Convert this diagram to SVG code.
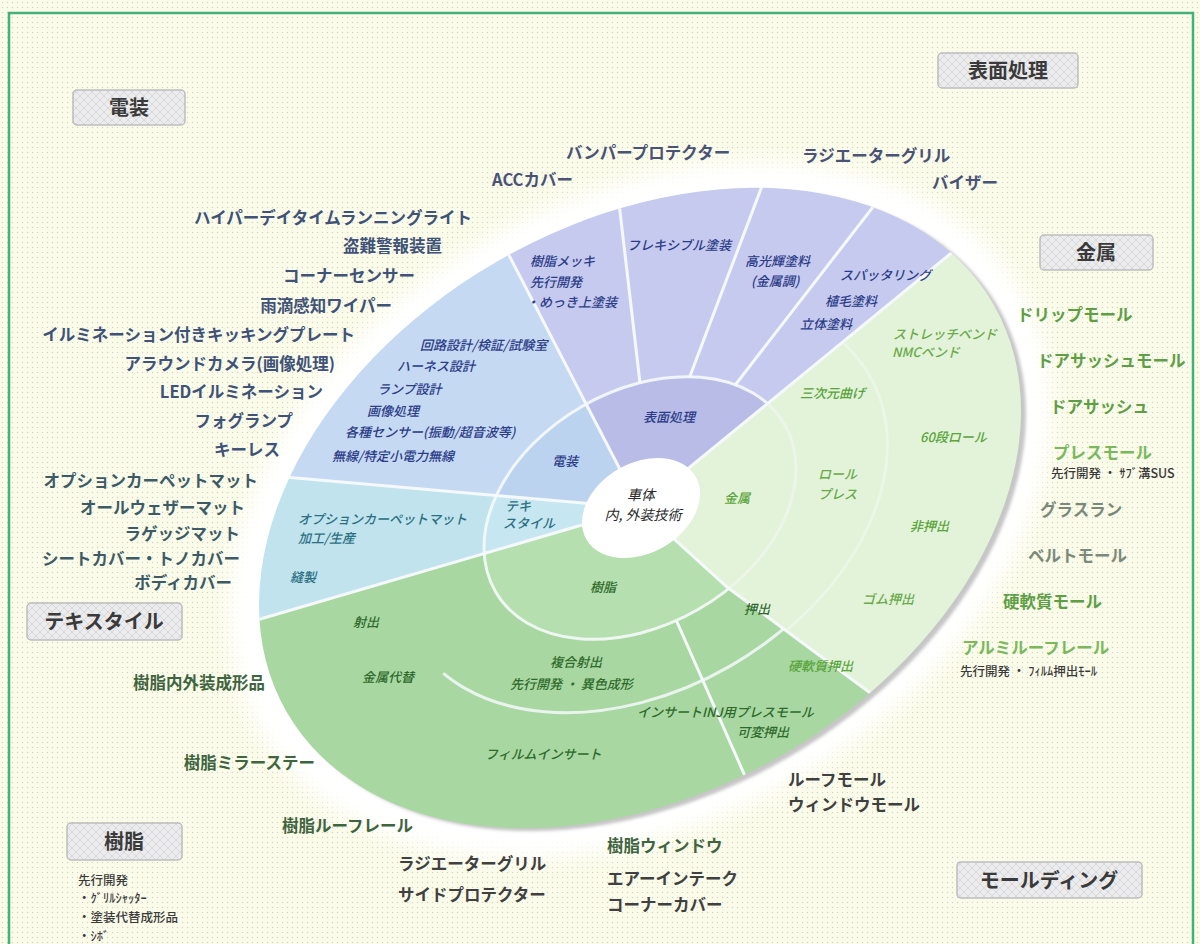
<svg xmlns="http://www.w3.org/2000/svg" width="1200" height="944" viewBox="0 0 1200 944">
<style>
.t{font-family:"Noto Sans CJK JP","Noto Sans",sans-serif}
.lab{font-size:16.5px;font-weight:700}
.tag{font-size:20px;font-weight:700;fill:#3a3a3a;text-anchor:middle}
.in{font-size:13px;font-style:italic;font-weight:500}
.note{font-size:12.5px;fill:#3a3a3a;font-weight:500}
.e{text-anchor:end}
.m{text-anchor:middle}
.cd{fill:#3f5277}.ct{fill:#3d5b66}.cs{fill:#4a5275}.cg{fill:#5e9f45}.cgl{fill:#79b95c}.cgg{fill:#7b8a78}.cr{fill:#3f6440}.ck{fill:#404040}
.ib{fill:#2c3c88}.it{fill:#2b6f80}.ir{fill:#2f6a2c}.im{fill:#5aa43c}.imd{fill:#6aaa4a}
.div{stroke:#f6f9fb;stroke-width:3;fill:none;stroke-linecap:round}
.box{fill:url(#hatch);stroke:#bdbdbd;stroke-width:1.5}
</style>
<defs>
<pattern id="dots" width="5" height="5" patternUnits="userSpaceOnUse"><circle cx="2.5" cy="2.5" r="0.7" fill="#cfd2c6"/></pattern>
<pattern id="hatch" width="8" height="8" patternUnits="userSpaceOnUse"><rect width="8" height="8" fill="#ececec"/><path d="M0,0L8,8M8,0L0,8" stroke="#d2d2da" stroke-width="0.8"/></pattern>
<filter id="blur10" x="-20%" y="-20%" width="140%" height="140%"><feGaussianBlur stdDeviation="10"/></filter>
<filter id="blur2"><feGaussianBlur stdDeviation="1.5"/></filter>
<clipPath id="cOuter"><ellipse cx="0" cy="0" rx="408" ry="285" transform="translate(640,508) rotate(-30)"/></clipPath>
<clipPath id="cMid"><ellipse cx="0" cy="0" rx="167" ry="117" transform="translate(640,508) rotate(-30)"/></clipPath>
<clipPath id="cRing"><path clip-rule="evenodd" transform="translate(640,508) rotate(-30)" d="M408,0A408,285 0 1,0 -408,0A408,285 0 1,0 408,0ZM167,0A167,117 0 1,0 -167,0A167,117 0 1,0 167,0Z"/></clipPath>
<clipPath id="cResArc"><polygon points="640,508 727,587 1000,789 1000,1300 104,958"/></clipPath>
<clipPath id="cMetArc"><polygon points="640,508 1182,65 1400,400 1000,789 727,587"/></clipPath>
<clipPath id="cNonMet"><polygon points="640,508 1182,65 700,-300 -300,-200 -300,1300 1000,1300 1000,789 727,587"/></clipPath>
</defs>

<rect width="1200" height="944" fill="#fbfbe9"/>
<rect width="1200" height="944" fill="url(#dots)"/>
<rect x="9" y="13" width="1184" height="945" fill="none" stroke="#45b07c" stroke-width="2.5"/>

<g id="disk">
<ellipse cx="0" cy="0" rx="440" ry="312" transform="translate(640,510) rotate(-30)" fill="#ffffff" filter="url(#blur10)"/>
<ellipse cx="0" cy="0" rx="408" ry="285" transform="translate(645,511) rotate(-30)" fill="#c6c6c6" filter="url(#blur2)"/>
<g clip-path="url(#cOuter)">
<polygon fill="#c6caee" points="640,508 318,-114 700,-300 1182,65"/>
<polygon fill="#c5d9f2" points="640,508 -120,442 -200,-200 318,-114"/>
<polygon fill="#c0e3ee" points="640,508 -140,736 -120,442"/>
<polygon fill="#a8d7a1" points="640,508 727,587 1000,789 1000,1200 -200,1200 -140,736"/>
<polygon fill="#e3f3d9" points="640,508 1182,65 1400,400 1000,789 727,587"/>
</g>
<g clip-path="url(#cMid)">
<polygon fill="#b8bce7" points="640,508 318,-114 700,-300 1182,65"/>
<polygon fill="#bcd3ef" points="640,508 -120,442 -200,-200 318,-114"/>
<polygon fill="#c6e6f1" points="640,508 -140,736 -120,442"/>
<polygon fill="#b5dfae" points="640,508 727,587 1000,789 1000,1200 -200,1200 -140,736"/>
<polygon fill="#e3f3d9" points="640,508 1182,65 1400,400 1000,789 727,587"/>
</g>
</g>

<g id="dividers">
<g clip-path="url(#cOuter)">
<line class="div" x1="640" y1="508" x2="1010" y2="205"/>
<line class="div" x1="640" y1="508" x2="470" y2="180"/>
<line class="div" x1="640" y1="508" x2="250" y2="474"/>
<line class="div" x1="640" y1="508" x2="250" y2="622"/>
<polyline class="div" points="640,508 727,587 1000,789"/>
</g>
<g clip-path="url(#cRing)">
<line class="div" x1="640" y1="508" x2="890" y2="185"/>
<line class="div" x1="640" y1="508" x2="770" y2="165"/>
<line class="div" x1="642" y1="400" x2="614" y2="160"/>
<line class="div" x1="677" y1="622" x2="760" y2="810"/>
</g>
<g clip-path="url(#cNonMet)"><ellipse class="div" cx="0" cy="0" rx="167" ry="117" transform="translate(640,508) rotate(-30)" opacity="0.9"/></g>
<g clip-path="url(#cMetArc)"><ellipse class="div" cx="0" cy="0" rx="167" ry="117" transform="translate(640,508) rotate(-30)" opacity="0.45"/></g>
<g clip-path="url(#cResArc)"><ellipse class="div" cx="0" cy="0" rx="261" ry="182" transform="translate(640,508) rotate(-30)" opacity="0.85"/></g>
<g clip-path="url(#cMetArc)"><ellipse class="div" cx="0" cy="0" rx="265" ry="185" transform="translate(640,508) rotate(-30)" opacity="0.4"/></g>
</g>

<g id="hub">
<ellipse cx="0" cy="0" rx="63" ry="45" transform="translate(641,508) rotate(-30)" fill="#ffffff"/>
<text class="t m" x="641" y="500" font-size="14" font-style="italic" fill="#2a2a2a">車体</text>
<text class="t m" x="643" y="520" font-size="14" font-style="italic" fill="#2a2a2a">内, 外装技術</text>
</g>

<g id="inner-labels" class="t in">
<text class="ib" x="643" y="422">表面処理</text>
<text class="ib" x="552" y="466">電装</text>
<text class="it" x="505" y="511">テキ</text>
<text class="it" x="503" y="528">スタイル</text>
<text class="im" x="724" y="503">金属</text>
<text class="ir" x="590" y="592">樹脂</text>
<text class="ir" x="744" y="614">押出</text>
</g>

<g id="surface-sectors" class="t in">
<text class="ib" x="530" y="266">樹脂メッキ</text>
<text class="ib" x="530" y="287">先行開発</text>
<text class="ib" x="526" y="307">・めっき上塗装</text>
<text class="ib" x="627" y="250">フレキシブル塗装</text>
<text class="ib" x="745" y="266">高光輝塗料</text>
<text class="ib" x="751" y="286">(金属調)</text>
<text class="ib" x="840" y="280">スパッタリング</text>
<text class="ib" x="825" y="306">植毛塗料</text>
<text class="ib" x="800" y="329">立体塗料</text>
</g>

<g id="denso-sector" class="t in">
<text class="ib" x="420" y="350">回路設計/検証/試験室</text>
<text class="ib" x="397" y="371">ハーネス設計</text>
<text class="ib" x="377" y="394">ランプ設計</text>
<text class="ib" x="367" y="416">画像処理</text>
<text class="ib" x="345" y="437">各種センサー(振動/超音波等)</text>
<text class="ib" x="332" y="461">無線/特定小電力無線</text>
</g>

<g id="textile-sector" class="t in">
<text class="it" x="298" y="524">オプションカーペットマット</text>
<text class="it" x="298" y="543">加工/生産</text>
<text class="it" x="290" y="582">縫製</text>
</g>

<g id="resin-sector" class="t in">
<text class="ir" x="353" y="627">射出</text>
<text class="ir" x="362" y="682">金属代替</text>
<text class="ir" x="550" y="667">複合射出</text>
<text class="ir" x="510" y="689">先行開発 ・ 異色成形</text>
<text class="ir" x="485" y="759">フィルムインサート</text>
<text class="ir" x="637" y="717">インサートINJ用プレスモール</text>
<text class="ir" x="737" y="737">可変押出</text>
<text class="im" x="788" y="671">硬軟質押出</text>
</g>

<g id="metal-sector" class="t in">
<text class="imd" x="893" y="339">ストレッチベンド</text>
<text class="imd" x="892" y="357">NMCベンド</text>
<text class="im" x="800" y="398">三次元曲げ</text>
<text class="im" x="920" y="442">60段ロール</text>
<text class="imd" x="818" y="479">ロール</text>
<text class="imd" x="818" y="499">プレス</text>
<text class="im" x="910" y="531">非押出</text>
<text class="imd" x="862" y="604">ゴム押出</text>
</g>

<g id="tag-denso"><rect class="box" x="73" y="90" width="112" height="35" rx="4"/><text class="t tag" x="129" y="115">電装</text></g>
<g id="tag-surface"><rect class="box" x="938" y="53" width="140" height="35" rx="4"/><text class="t tag" x="1008" y="78">表面処理</text></g>
<g id="tag-metal"><rect class="box" x="1040" y="235" width="113" height="35" rx="4"/><text class="t tag" x="1096" y="260">金属</text></g>
<g id="tag-textile"><rect class="box" x="27" y="603" width="155" height="37" rx="4"/><text class="t tag" x="104" y="629">テキスタイル</text></g>
<g id="tag-resin"><rect class="box" x="67" y="823" width="115" height="37" rx="4"/><text class="t tag" x="124" y="849">樹脂</text></g>
<g id="tag-molding"><rect class="box" x="957" y="862" width="185" height="36" rx="4"/><text class="t tag" x="1049" y="888">モールディング</text></g>

<g id="denso-products" class="t lab cd e">
<text x="472" y="224">ハイパーデイタイムランニングライト</text>
<text x="442" y="252">盗難警報装置</text>
<text x="415" y="282">コーナーセンサー</text>
<text x="392" y="312">雨滴感知ワイパー</text>
<text x="355" y="341">イルミネーション付きキッキングプレート</text>
<text x="335" y="370">アラウンドカメラ(画像処理)</text>
<text x="323" y="398">LEDイルミネーション</text>
<text x="293" y="427">フォグランプ</text>
<text x="280" y="456">キーレス</text>
</g>

<g id="textile-products" class="t lab ct e">
<text x="258" y="487">オプションカーペットマット</text>
<text x="245" y="514">オールウェザーマット</text>
<text x="240" y="540">ラゲッジマット</text>
<text x="240" y="565">シートカバー・トノカバー</text>
<text x="232" y="589">ボディカバー</text>
</g>

<g id="surface-products" class="t lab cs">
<text x="566" y="159">バンパープロテクター</text>
<text x="492" y="186">ACCカバー</text>
<text x="802" y="162">ラジエーターグリル</text>
<text x="932" y="189">バイザー</text>
</g>

<g id="molding-products" class="t lab">
<text class="cg" x="1017" y="321">ドリップモール</text>
<text class="cg" x="1037" y="367">ドアサッシュモール</text>
<text class="cg" x="1050" y="413">ドアサッシュ</text>
<text class="cgl" x="1053" y="459">プレスモール</text>
<text class="cgg" x="1040" y="516">グラスラン</text>
<text class="cgg" x="1028" y="562">ベルトモール</text>
<text class="cg" x="1003" y="608">硬軟質モール</text>
<text class="cgl" x="962" y="654">アルミルーフレール</text>
<text class="ck" x="788" y="786">ルーフモール</text>
<text class="ck" x="788" y="811">ウィンドウモール</text>
</g>
<g id="molding-notes" class="t note">
<text x="1051" y="478">先行開発 ・ ｻﾌﾞ溝SUS</text>
<text x="960" y="676">先行開発 ・ ﾌｨﾙﾑ押出ﾓｰﾙ</text>
</g>

<g id="resin-products" class="t lab">
<text class="cr e" x="265" y="689">樹脂内外装成形品</text>
<text class="cr e" x="315" y="769">樹脂ミラーステー</text>
<text class="cr e" x="413" y="832">樹脂ルーフレール</text>
<text class="ck" x="398" y="870">ラジエーターグリル</text>
<text class="ck" x="398" y="901">サイドプロテクター</text>
<text class="cr" x="607" y="852">樹脂ウィンドウ</text>
<text class="ck" x="607" y="885">エアーインテーク</text>
<text class="ck" x="607" y="911">コーナーカバー</text>
</g>
<g id="resin-notes" class="t note">
<text x="78" y="885">先行開発</text>
<text x="78" y="903">・ｸﾞﾘﾙｼｬｯﾀｰ</text>
<text x="78" y="922">・塗装代替成形品</text>
<text x="78" y="941">・ｼﾎﾞ</text>
</g>
</svg>
